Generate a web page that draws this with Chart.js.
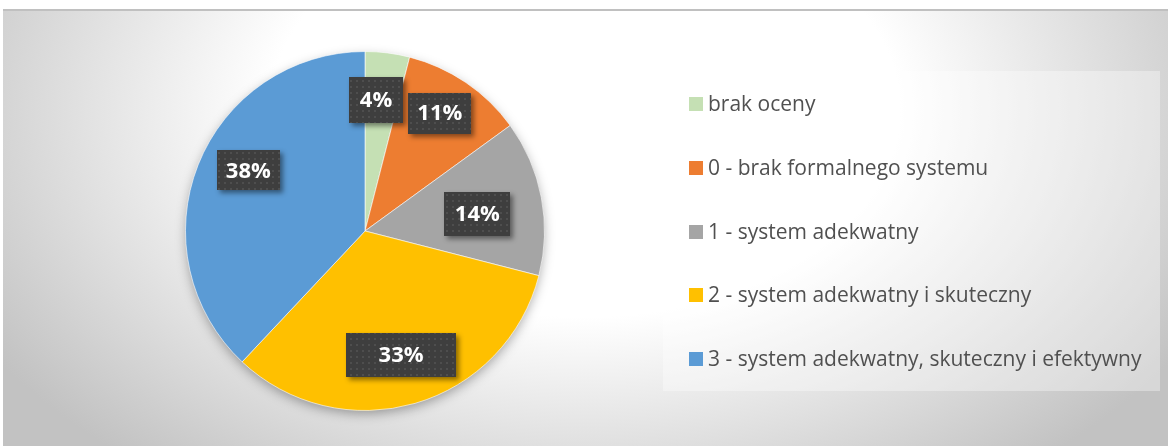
<!DOCTYPE html>
<html><head><meta charset="utf-8">
<script src="https://cdn.jsdelivr.net/npm/chart.js@4/dist/chart.umd.min.js"></script>
<style>html,body{margin:0;padding:0;background:#fff;overflow:hidden}canvas{display:block}</style>
</head><body>
<canvas id="c" width="1171" height="446"></canvas>
<script>
// ---- data ----
const categories = ['brak oceny', '0 - brak formalnego systemu', '1 - system adekwatny', '2 - system adekwatny i skuteczny', '3 - system adekwatny, skuteczny i efektywny'];
const shares = [4, 11, 14, 33, 38];
const percentLabels = ['4%', '11%', '14%', '33%', '38%'];

// ---- styles ----
const sliceColors = ['#c5e0b4', '#ed7d31', '#a5a5a5', '#ffc000', '#5b9bd5'];
const labelRadius = [0.733, 0.778, 0.633, 0.72, 0.733];
const labelAngleShift = [-2.4, -1.8, 2.2, 0, 5.9];
const labelBoxW = [54, 63, 66, 110, 63];
const labelBoxH = [46, 41, 44, 44, 40];

function makePattern(ctx) {
  const p = document.createElement('canvas');
  p.width = 6; p.height = 6;
  const g = p.getContext('2d');
  g.fillStyle = '#3e3e3e'; g.fillRect(0, 0, 6, 6);
  g.fillStyle = '#4e4e4e'; g.fillRect(2, 2, 2, 2);
  return ctx.createPattern(p, 'repeat');
}

const backgroundPlugin = {
  id: 'bg',
  beforeDraw(chart) {
    const ctx = chart.ctx;
    ctx.save();
    ctx.fillStyle = '#ffffff';
    ctx.fillRect(0, 0, chart.width, chart.height);
    ctx.save();
    ctx.beginPath();
    ctx.rect(3, 10, 1165, 436);
    ctx.clip();
    ctx.translate(585, 110);
    ctx.scale(1, 460 / 700);
    const gr = ctx.createRadialGradient(0, 0, 0, 0, 0, 700);
    gr.addColorStop(0, '#ffffff');
    gr.addColorStop(0.45, '#ffffff');
    gr.addColorStop(1, '#c2c2c2');
    ctx.fillStyle = gr;
    ctx.fillRect(-700, -700, 1400, 1400);
    ctx.restore();
    ctx.fillStyle = '#c0c0c0';
    ctx.fillRect(3, 9, 1165, 2);
    ctx.fillStyle = 'rgba(255,255,255,0.35)';
    ctx.fillRect(663, 71, 497, 320);
    ctx.restore();
  },
  beforeDatasetsDraw(chart) {
    const arc = chart.getDatasetMeta(0).data[0];
    if (!arc) return;
    const ctx = chart.ctx;
    ctx.save();
    ctx.shadowColor = 'rgba(0,0,0,0.35)';
    ctx.shadowBlur = 12;
    ctx.shadowOffsetY = 4;
    ctx.fillStyle = '#888';
    ctx.beginPath();
    ctx.arc(arc.x, arc.y, arc.outerRadius - 1, 0, Math.PI * 2);
    ctx.fill();
    ctx.restore();
  },
  afterDatasetsDraw(chart) {
    const ctx = chart.ctx;
    const meta = chart.getDatasetMeta(0);
    const pat = makePattern(ctx);
    meta.data.forEach((arc, i) => {
      const mid = (arc.startAngle + arc.endAngle) / 2 + labelAngleShift[i] * Math.PI / 180;
      const r = arc.outerRadius * labelRadius[i];
      const x = arc.x + Math.cos(mid) * r;
      const y = arc.y + Math.sin(mid) * r;
      const w = labelBoxW[i], h = labelBoxH[i];
      ctx.save();
      ctx.shadowColor = 'rgba(0,0,0,0.45)';
      ctx.shadowBlur = 5;
      ctx.shadowOffsetX = 3;
      ctx.shadowOffsetY = 3;
      ctx.fillStyle = '#3e3e3e';
      ctx.fillRect(Math.round(x - w / 2), Math.round(y - h / 2), w, h);
      ctx.restore();
      ctx.save();
      ctx.fillStyle = pat;
      ctx.fillRect(Math.round(x - w / 2), Math.round(y - h / 2), w, h);
      ctx.fillStyle = '#ffffff';
      ctx.font = 'bold 22px "Open Sans"';
      ctx.textAlign = 'center';
      ctx.textBaseline = 'middle';
      ctx.fillText(percentLabels[i], x, y + 1);
      ctx.restore();
    });
    const labels = chart.data.labels;
    const colors = chart.data.datasets[0].backgroundColor;
    ctx.save();
    ctx.font = '21px "Open Sans"';
    ctx.textBaseline = 'middle';
    ctx.textAlign = 'left';
    labels.forEach((lab, i) => {
      const yc = 104 + i * 63.8;
      ctx.fillStyle = colors[i];
      ctx.fillRect(689, Math.round(yc - 7), 14, 14);
      ctx.fillStyle = '#505050';
      ctx.fillText(lab, 708, yc + 1);
    });
    ctx.restore();
  }
};

new Chart(document.getElementById('c'), {
  type: 'pie',
  data: {
    labels: categories,
    datasets: [{
      data: shares,
      backgroundColor: sliceColors,
      borderColor: 'rgba(255,255,255,0.6)',
      borderWidth: 1
    }]
  },
  options: {
    responsive: false,
    animation: false,
    layout: { padding: { left: 185, right: 626, top: 51, bottom: 35 } },
    plugins: { legend: { display: false }, tooltip: { enabled: false } }
  },
  plugins: [backgroundPlugin]
});
</script>
</body></html>
